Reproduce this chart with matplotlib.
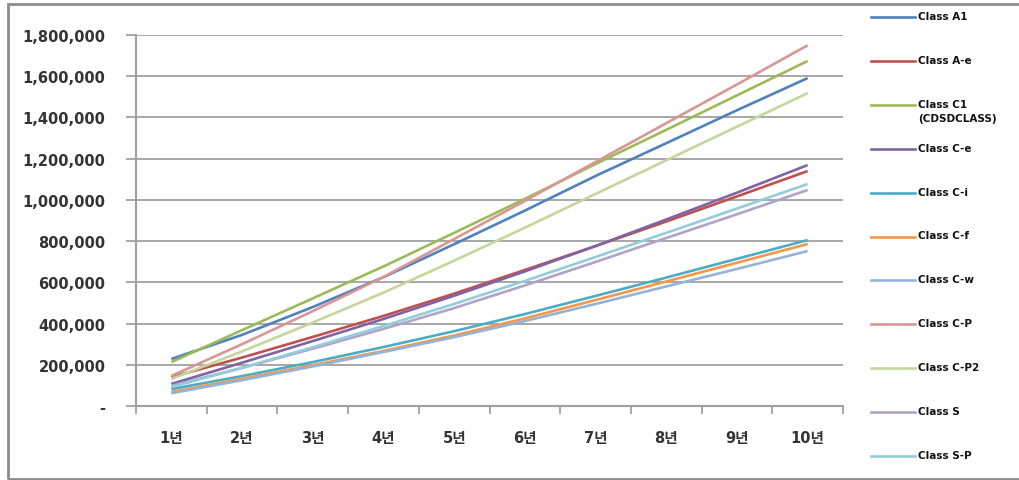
import numpy as np
import matplotlib.pyplot as plt
from matplotlib.lines import Line2D
from matplotlib.patches import Rectangle
from matplotlib.ticker import FuncFormatter

# 연차
years = ['1년', '2년', '3년', '4년', '5년', '6년', '7년', '8년', '9년', '10년']

# 시리즈 이름
names = ['Class A1', 'Class A-e', 'Class C1\n(CDSDCLASS)', 'Class C-e', 'Class C-i', 'Class C-f',
         'Class C-w', 'Class C-P', 'Class C-P2', 'Class S', 'Class S-P']

# 값
class_a1 = [228000, 345000, 480000, 625000, 785000, 948000, 1116000, 1275000, 1435000, 1591000]
class_ae = [140000, 235000, 335000, 437000, 545000, 660000, 776000, 895000, 1017000, 1140000]
class_c1 = [213000, 368000, 522000, 677000, 840000, 1005000, 1174000, 1340000, 1507000, 1674000]
class_ce = [107000, 210000, 315000, 422000, 535000, 653000, 776000, 905000, 1035000, 1169000]
class_ci = [82000, 145000, 213000, 286000, 363000, 446000, 534000, 623000, 714000, 805000]
class_cf = [68000, 132000, 198000, 267000, 342000, 425000, 514000, 604000, 695000, 786000]
class_cw = [62000, 125000, 192000, 262000, 334000, 412000, 495000, 580000, 665000, 752000]
class_cp = [146000, 300000, 460000, 626000, 810000, 995000, 1184000, 1372000, 1560000, 1750000]
class_cp2 = [131000, 265000, 405000, 550000, 705000, 865000, 1029000, 1192000, 1355000, 1518000]
class_s = [98000, 185000, 278000, 374000, 475000, 585000, 699000, 815000, 930000, 1048000]
class_sp = [92000, 185000, 285000, 388000, 495000, 607000, 723000, 840000, 958000, 1077000]

series = [class_a1, class_ae, class_c1, class_ce, class_ci, class_cf,
          class_cw, class_cp, class_cp2, class_s, class_sp]
colors = ['#4F81BD', '#C0504D', '#9BBB59', '#8064A2', '#4BACC6', '#F79646',
          '#95B3D7', '#D99694', '#C3D69B', '#B3A2C7', '#92CDDC']

if __name__ == "__main__":
    fig = plt.figure(figsize=(10.19, 4.81), dpi=100)
    ax = fig.add_axes([136 / 1019, 1 - 407 / 481, (843 - 136) / 1019, (407 - 36) / 481])

    x = np.arange(len(years))
    for vals, c in zip(series, colors):
        ax.plot(x, vals, color=c, lw=1.9, solid_capstyle='butt')

    ax.set_xlim(-0.5, len(years) - 0.5)
    ax.set_ylim(0, 1800000)
    ax.set_yticks(np.arange(0, 1800001, 200000))
    ax.yaxis.set_major_formatter(FuncFormatter(lambda v, p: '-' if v == 0 else f'{int(v):,}'))
    ax.grid(axis='y', color='#a0a0a0', lw=1.3)
    ax.set_axisbelow(True)

    ax.set_xticks(np.arange(-0.5, len(years)), labels=[''] * (len(years) + 1))
    ax.set_xticks(x, labels=years, minor=True)
    ax.tick_params(axis='x', which='major', length=6, width=1.3, color='#a0a0a0', direction='out')
    ax.tick_params(axis='x', which='minor', length=0, pad=17, labelsize=10.5, labelcolor='#333333')
    ax.tick_params(axis='y', length=7, width=1.3, color='#a0a0a0', pad=15, labelsize=10.5,
                   labelcolor='#333333')
    for lab in ax.get_xticklabels(minor=True):
        lab.set_family(['DejaVu Sans', 'Noto Sans CJK KR'])
        lab.set_fontweight('bold')
    for lab in ax.get_yticklabels():
        lab.set_fontweight('bold')

    for s in ['top', 'right']:
        ax.spines[s].set_visible(False)
    for s in ['left', 'bottom']:
        ax.spines[s].set_color('#a0a0a0')
        ax.spines[s].set_linewidth(1.5)

    # 범례 (오른쪽)
    for i, (name, c) in enumerate(zip(names, colors)):
        yy = 1 - (18 + i * 43.9) / 481
        fig.add_artist(Line2D([871 / 1019, 915 / 1019], [yy, yy], color=c, lw=1.9))
        fig.text(918 / 1019, yy + 6 / 481, name, fontsize=7.5, fontweight='bold', va='top',
                 ha='left', family=['Liberation Sans Narrow', 'DejaVu Sans'],
                 color='#111111', linespacing=1.5)

    # 바깥 테두리 (오른쪽은 잘려 있음)
    fig.add_artist(Rectangle((8 / 1019, 1 / 481), 1.05, 475 / 481, transform=fig.transFigure,
                             fill=False, edgecolor='#8c8c8c', lw=2))

    fig.savefig('out.png', dpi=100)
